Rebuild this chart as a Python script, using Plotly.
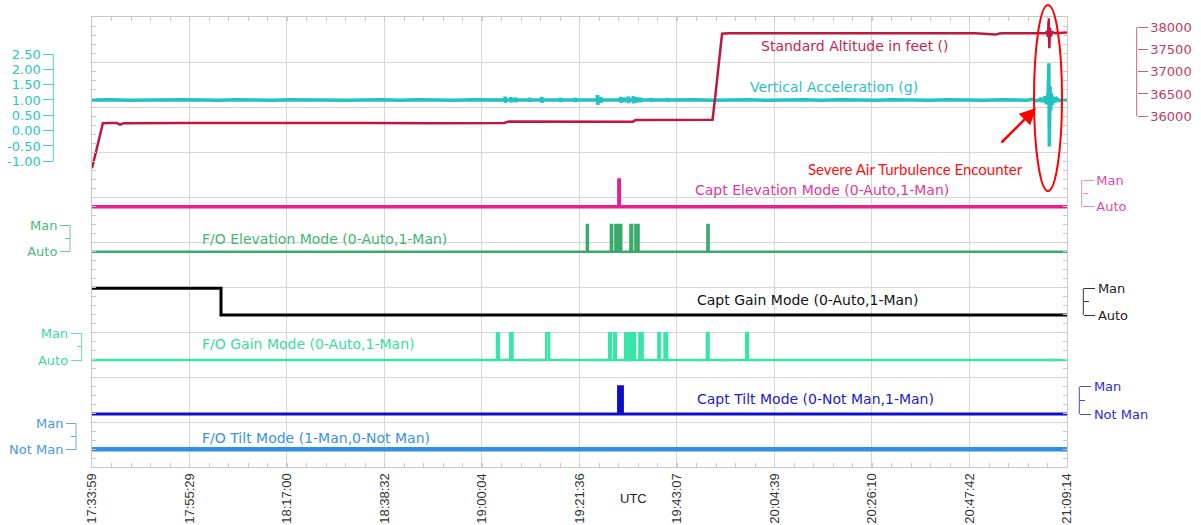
import plotly.graph_objects as go

W, H = 1201, 525
PL, PR, PT, PB = 92, 1067, 17, 467   # plot frame in pixels

# ---------------- DATA ----------------
tick_labels = ["17:33:59", "17:55:29", "18:17:00", "18:38:32", "19:00:04", "19:21:36",
               "19:43:07", "20:04:39", "20:26:10", "20:47:42", "21:09:14"]

def clock_min(s):
    h, m, sec = (int(v) for v in s.split(":"))
    return h * 60 + m + sec / 60.0

T0 = clock_min(tick_labels[0])
tick_vals = [clock_min(s) - T0 for s in tick_labels]   # minutes since 17:33:59 UTC
T_END = tick_vals[-1]

# Vertical acceleration (g) ; time = minutes since 17:33:59 UTC
accel_t = [0, 4, 8, 12, 16, 20, 24, 28, 32, 36, 40, 44, 48, 52, 56, 60, 64, 68, 72, 76, 80, 84, 88,
           91.1, 91.2, 91.28, 91.36,
           92.4, 92.5, 92.58, 92.66,
           93.4, 93.5, 93.58, 93.66,
           96.6, 96.7, 96.78, 96.86,
           99.2, 99.3, 99.38, 99.46,
           103.3, 103.4, 103.48, 103.56,
           106.6, 106.7, 106.78, 106.86,
           111.5, 111.6, 111.68, 111.76,
           112.2, 112.3, 112.38, 112.46,
           116.6, 116.7, 116.78, 116.86,
           117.4, 117.5, 117.58, 117.66,
           118.3, 118.4, 118.48, 118.56,
           119.4, 119.5, 119.58, 119.66,
           120.1, 120.2, 120.28, 120.36,
           121.0, 121.1, 121.18, 121.26,
           123.2, 123.3, 123.38, 123.46,
           126.9, 127.0, 127.08, 127.16,
           133, 137, 141, 145, 149, 153, 157, 161, 165, 169, 173, 177, 181, 185, 189, 193, 197, 201, 204,
           206.5, 207.5, 208.5, 209.3, 209.4, 209.9, 210.0, 210.3, 210.4, 210.7, 210.85, 211.1, 211.25,
           211.35, 211.5, 211.65, 211.8, 212.0, 212.3, 212.6, 213.0, 213.5, 214.2, 215.25]
accel_g = [1.00, 1.01, 0.99, 1.00, 0.99, 1.01, 1.00, 0.99, 1.01, 1.00, 0.99, 1.01, 1.00, 1.01, 0.99, 1.00,
           1.01, 0.99, 1.01, 1.00, 0.99, 1.01, 1.00,
           1.00, 1.11, 0.91, 1.00,
           1.00, 1.09, 0.92, 1.00,
           1.00, 1.08, 0.93, 1.00,
           1.00, 1.07, 0.94, 1.00,
           1.00, 1.10, 0.91, 1.00,
           1.00, 1.07, 0.94, 1.00,
           1.00, 1.07, 0.94, 1.00,
           1.00, 1.16, 0.84, 1.00,
           1.00, 1.10, 0.91, 1.00,
           1.00, 1.10, 0.91, 1.00,
           1.00, 1.08, 0.93, 1.00,
           1.00, 1.11, 0.90, 1.00,
           1.00, 1.12, 0.89, 1.00,
           1.00, 1.09, 0.92, 1.00,
           1.00, 1.08, 0.93, 1.00,
           1.00, 1.06, 0.95, 1.00,
           1.00, 1.06, 0.95, 1.00,
           1.01, 0.99, 1.00, 1.01, 0.99, 1.00, 1.01, 0.99, 1.01, 1.00, 0.99, 1.01, 1.00, 0.99, 1.01, 1.00,
           0.99, 1.01, 1.00,
           0.99, 1.02, 0.98, 1.00, 1.07, 0.94, 1.00, 1.00, 1.12, 0.86, 1.00, 1.25, 2.20,
           -0.52, 1.45, 0.65, 1.22, 0.85, 1.10, 0.93, 1.04, 0.98, 1.01, 1.00]
accel_ticks = [-1.0, -0.5, 0.0, 0.5, 1.0, 1.5, 2.0, 2.5]
accel_labels = [f"{v:.2f}" for v in accel_ticks]

# Standard altitude (ft)
alt_t = [0, 2.4, 4.0, 5.5, 6.2, 7.0, 20, 35, 50, 62, 75, 88,
         91.0, 92.0, 100, 110, 119.4, 120.0, 128,
         137.0, 137.6, 138.2, 138.7, 139.1, 140.5,
         150, 165, 180, 195, 199.5, 200.3, 201, 206,
         210.4, 210.8, 211.05, 211.2, 211.35, 211.5, 211.7, 212.0, 212.6, 215.25]
alt_ft = [34835, 35845, 35852, 35848, 35815, 35846, 35850, 35855, 35848, 35852, 35847, 35850,
          35852, 35882, 35878, 35884, 35880, 35915, 35918,
          35925, 36450, 37000, 37480, 37850, 37858,
          37855, 37860, 37852, 37858, 37830, 37855, 37858, 37852,
          37860, 37890, 37780, 38195, 37523, 37980, 37790, 37890, 37860, 37875]
alt_ticks = [36000, 36500, 37000, 37500, 38000]
alt_labels = [str(v) for v in alt_ticks]

# Mode discretes (0 = Auto / Not Man, 1 = Man), step changes
capt_elev_t = [0, 116.32, 116.40, 215.25]
capt_elev_v = [0, 1, 0, 0]

fo_elev_t = [0, 109.25, 109.47, 114.55, 114.83, 115.56, 115.86, 116.14, 116.42, 116.60, 116.83,
             118.87, 119.25, 119.97, 120.15, 120.36, 120.66, 135.87, 136.12, 215.25]
fo_elev_v = [0, 1, 0, 1, 0, 1, 0, 1, 0, 1, 0, 1, 0, 1, 0, 1, 0, 1, 0, 0]

capt_gain_t = [0, 28.48, 215.25]
capt_gain_v = [1, 0, 0]

fo_gain_t = [0, 89.40, 89.80, 92.33, 92.83, 100.28, 100.91, 114.17, 114.55, 115.27, 115.65,
             117.70, 118.08, 118.65, 119.12, 119.53, 119.85, 120.85, 121.07, 121.38, 121.56,
             125.05, 125.37, 126.40, 126.96, 135.75, 136.11, 144.42, 144.79, 215.25]
fo_gain_v = [0, 1, 0, 1, 0, 1, 0, 1, 0, 1, 0, 1, 0, 1, 0, 1, 0, 1, 0, 1, 0,
             1, 0, 1, 0, 1, 0, 1, 0, 0]

capt_tilt_t = [0, 116.25, 116.50, 116.60, 116.85, 116.95, 117.10, 215.25]
capt_tilt_v = [0, 1, 0, 1, 0, 1, 0, 0]

fo_tilt_t = [0, 215.25]
fo_tilt_v = [0, 0]

mode_ticks = [0, 1]
auto_labels = ["Auto", "Man"]
tilt_labels = ["Not Man", "Man"]
mid_tick = [0.5]

label_texts = ["Standard Altitude in feet ()", "Vertical Acceleration (g)",
               "Capt Elevation Mode (0-Auto,1-Man)", "F/O Elevation Mode (0-Auto,1-Man)",
               "Capt Gain Mode (0-Auto,1-Man)", "F/O Gain Mode (0-Auto,1-Man)",
               "Capt Tilt Mode (0-Not Man,1-Man)", "F/O Tilt Mode (1-Man,0-Not Man)"]
callout_text = "Severe Air Turbulence Encounter"
x_title = "UTC"

# ---------------- STYLE / LAYOUT ----------------
def axis_range(va, pa, vb, pb):
    s = (va - vb) / (pb - pa)
    return [va - (PB - pa) * s, va + (pa - PT) * s]

series = [
    dict(t=accel_t, v=accel_g, shape="linear", width=3.5, color="#22c2c2", side="left", bx=53.3,
         ref=((2.5, 54.0), (-1.0, 161.3)), ticks=accel_ticks, labels=accel_labels,
         tcolor="#2fc4c4", bcolor="#55cccc", ticklen=10, mid=None),
    dict(t=alt_t, v=alt_ft, shape="linear", width=2.5, color="#c0173f", side="right", bx=1136.7,
         ref=((38000, 27.0), (36000, 116.3)), ticks=alt_ticks, labels=alt_labels,
         tcolor="#c23b63", bcolor="#c8607f", ticklen=10, mid=None),
    dict(t=capt_elev_t, v=capt_elev_v, shape="hv", width=3.5, color="#ec1e8e", side="right", bx=1081.7,
         ref=((1, 180.0), (0, 206.7)), ticks=mode_ticks, labels=auto_labels,
         tcolor="#e04aa6", bcolor="#e58cc0", ticklen=11, mid=mid_tick),
    dict(t=fo_elev_t, v=fo_elev_v, shape="hv", width=2.5, color="#3aaa6a", side="left", bx=70.0,
         ref=((1, 225.0), (0, 251.7)), ticks=mode_ticks, labels=auto_labels,
         tcolor="#4cb87c", bcolor="#70c494", ticklen=10, mid=mid_tick),
    dict(t=capt_gain_t, v=capt_gain_v, shape="hv", width=3, color="#000000", side="right", bx=1083.3,
         ref=((1, 288.3), (0, 315.0)), ticks=mode_ticks, labels=auto_labels,
         tcolor="#222222", bcolor="#333333", ticklen=11, mid=mid_tick),
    dict(t=fo_gain_t, v=fo_gain_v, shape="hv", width=2.5, color="#36e6a6", side="left", bx=81.7,
         ref=((1, 333.3), (0, 360.0)), ticks=mode_ticks, labels=auto_labels,
         tcolor="#3ad9a0", bcolor="#5fdcb0", ticklen=11, mid=mid_tick),
    dict(t=capt_tilt_t, v=capt_tilt_v, shape="hv", width=3, color="#0d0dcc", side="right", bx=1079.3,
         ref=((1, 386.7), (0, 414.0)), ticks=mode_ticks, labels=tilt_labels,
         tcolor="#2b2bd6", bcolor="#4a4ad8", ticklen=11, mid=mid_tick),
    dict(t=fo_tilt_t, v=fo_tilt_v, shape="hv", width=4.5, color="#2f8fe0", side="left", bx=76.0,
         ref=((1, 423.3), (0, 449.3)), ticks=mode_ticks, labels=tilt_labels,
         tcolor="#4a97dd", bcolor="#6aa8e0", ticklen=10, mid=mid_tick),
]

label_pos = [(759, 46), (748, 87), (693, 190), (200, 239), (695, 300), (200, 344), (695, 399), (200, 438)]
label_colors = ["#c8244c", "#2cc0c0", "#e3379a", "#46b478", "#111111", "#36dca2", "#2020c8", "#3b93dd"]

fig = go.Figure()
fig.add_trace(go.Scatter(x=[], y=[], xaxis="x", yaxis="y", showlegend=False, hoverinfo="skip"))

grid_c = "#d6d6d6"
layout = dict(
    width=W, height=H, margin=dict(l=0, r=0, t=0, b=0, pad=0),
    paper_bgcolor="white", plot_bgcolor="white", showlegend=False,
    xaxis=dict(domain=[PL / W, PR / W], range=[0, T_END], tickmode="array", tickvals=tick_vals,
               ticktext=tick_labels, tickangle=-90,
               tickfont=dict(family="Liberation Sans", size=13, color="#333333"),
               showgrid=True, gridcolor=grid_c, gridwidth=1, zeroline=False,
               showline=True, linecolor="#c8c8c8", linewidth=1, mirror="allticks",
               ticks="inside", ticklen=4, tickcolor="#c8c8c8",
               minor=dict(tick0=0, dtick=T_END / 50, ticks="inside", ticklen=4, tickcolor="#c8c8c8"),
               automargin=False, fixedrange=True),
    yaxis=dict(domain=[1 - PB / H, 1 - PT / H], range=[0, 10], dtick=1, showticklabels=False,
               showgrid=True, gridcolor=grid_c, gridwidth=1, zeroline=False,
               showline=True, linecolor="#c8c8c8", linewidth=1, mirror="allticks",
               ticks="inside", ticklen=4, tickcolor="#c8c8c8",
               minor=dict(dtick=0.2, ticks="inside", ticklen=4, tickcolor="#c8c8c8"),
               automargin=False, fixedrange=True),
)

shapes = []
for i, s in enumerate(series):
    k = i + 2
    yname = f"y{k}"
    fig.add_trace(go.Scatter(x=s["t"], y=s["v"], mode="lines", xaxis="x", yaxis=yname,
                             line=dict(color=s["color"], width=s["width"], shape=s["shape"]),
                             showlegend=False, hoverinfo="skip"))
    (va, pa), (vb, pb) = s["ref"]
    yax = dict(overlaying="y", anchor="free", position=s["bx"] / W, side=s["side"],
               range=axis_range(va, pa, vb, pb), tickmode="array", tickvals=s["ticks"],
               ticktext=s["labels"], ticks="outside", ticklen=s["ticklen"], tickwidth=1,
               tickcolor=s["bcolor"], tickfont=dict(family="DejaVu Sans", size=13, color=s["tcolor"]),
               showgrid=False, zeroline=False, showline=False, automargin=False, fixedrange=True)
    if s["mid"]:
        yax["minor"] = dict(tickmode="array", tickvals=s["mid"], ticks="outside", ticklen=5,
                            tickwidth=1, tickcolor=s["bcolor"], showgrid=False)
    layout[f"yaxis{k}"] = yax
    shapes.append(dict(type="line", xref="paper", yref=yname, x0=s["bx"] / W, x1=s["bx"] / W,
                       y0=min(s["ticks"]), y1=max(s["ticks"]),
                       line=dict(color=s["bcolor"], width=1)))

# turbulence highlight ellipse
shapes.append(dict(type="circle", xref="paper", yref="paper", x0=1034 / W, x1=1062 / W,
                   y0=1 - 191 / H, y1=1 - 5 / H, line=dict(color="#ff0000", width=2)))
layout["shapes"] = shapes

ann = []
for txt, (px, py), c in zip(label_texts, label_pos, label_colors):
    ann.append(dict(text=txt, xref="paper", yref="paper", x=px / W, y=1 - py / H,
                    xanchor="left", yanchor="middle", showarrow=False,
                    font=dict(family="DejaVu Sans", size=14, color=c)))
ann.append(dict(text=callout_text, xref="paper", yref="paper", x=806 / W, y=1 - 169 / H,
                xanchor="left", yanchor="middle", showarrow=False,
                font=dict(family="Lato", size=15, color="#ff1010")))
ann.append(dict(text="", xref="paper", yref="paper", x=1036 / W, y=1 - 108 / H,
                ax=-36, ay=36, showarrow=True, arrowhead=2, arrowsize=1.3, arrowwidth=2.5,
                arrowcolor="#ff0000"))
ann.append(dict(text=x_title, xref="paper", yref="paper", x=633 / W, y=1 - 498 / H,
                xanchor="center", yanchor="middle", showarrow=False,
                font=dict(family="Liberation Sans", size=13, color="#222222")))
layout["annotations"] = ann

fig.update_layout(**layout)
fig.write_html("out.html")
